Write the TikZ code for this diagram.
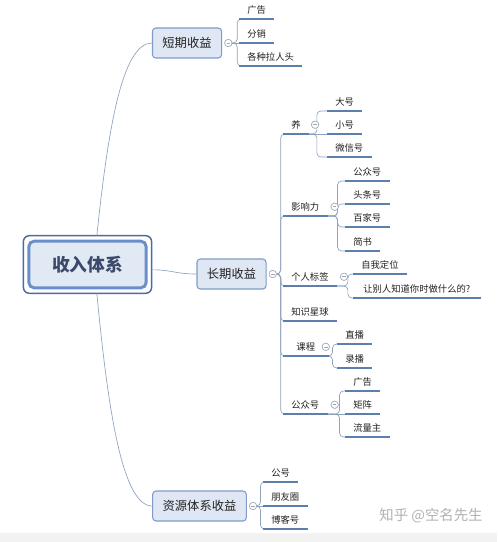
\documentclass[tikz,border=0pt]{standalone}
\usepackage{fontspec}
\setmainfont{Noto Sans CJK SC}
\usetikzlibrary{positioning}

\definecolor{boxfill}{HTML}{DEE7F3}
\definecolor{boxdraw}{HTML}{7F9CC6}
\definecolor{rootfill}{HTML}{E1E9F4}
\definecolor{rootin}{HTML}{6A8FC8}
\definecolor{rootout}{HTML}{4D6BA3}
\definecolor{rootText}{HTML}{3B4A6B}
\definecolor{ulcol}{HTML}{5B7FAF}
\definecolor{conncol}{HTML}{8FA3BD}
\definecolor{foldcol}{HTML}{9AA8B8}
\definecolor{txt}{HTML}{222222}
\definecolor{bandgray}{HTML}{F2F2F2}

\tikzset{
  root/.style={draw=rootin,fill=rootfill,line width=2.2pt,rounded corners=4pt,
    minimum width=88pt,minimum height=35pt,text=rootText,
    font=\fontsize{13.3}{15}\selectfont\bfseries},
  rootframe/.style={draw=rootout,line width=1.1pt,rounded corners=4.5pt},
  topic/.style={draw=boxdraw,fill=boxfill,rounded corners=2.5pt,line width=0.8pt,
    minimum height=22.5pt,inner xsep=7.5pt,text=txt,font=\fontsize{9.2}{11}\selectfont},
  leaf/.style={anchor=south west,inner xsep=6pt,inner ysep=3.5pt,text=txt,
    font=\fontsize{7}{8.4}\selectfont},
  uline/.style={draw=ulcol,line width=1.3pt},
  conn/.style={draw=conncol,line width=0.5pt},
  fan/.style={conn,rounded corners=3pt},
  fold/.style={circle,draw=foldcol,fill=white,inner sep=0pt,minimum size=5.5pt,line width=0.4pt,
    path picture={\draw[foldcol,line width=0.4pt]
      ([xshift=-1.3pt]path picture bounding box.center) -- ([xshift=1.3pt]path picture bounding box.center);}},
  wmark/.style={text=gray!60,font=\fontsize{10.8}{12}\selectfont},
}

\begin{document}
\begin{tikzpicture}[x=0.75pt,y=-0.75pt]
  \fill[white] (0,0) rectangle (497,542);
  \useasboundingbox (0,0) rectangle (497,542);
  \fill[bandgray] (0,533) rectangle (497,542);

  \node[root] (root) at (87.5,264.5) {收入体系};
  \draw[rootframe] ([shift={(-4,-4)}]root.north west) rectangle ([shift={(4,4)}]root.south east);

  \node[topic] (short) at (187,43) {短期收益};
  \node[topic] (long) at (231.5,274) {长期收益};
  \node[topic] (res) at (199.5,506) {资源体系收益};

  \node[leaf] (sad) at (239,19) {广告};
  \node[leaf] (sfx) at (239,43) {分销};
  \node[leaf] (slrt) at (239,66) {各种拉人头};

  \node[leaf] (yang) at (283,134) {养};
  \node[leaf] (infl) at (283,216) {影响力};
  \node[leaf] (tag) at (283,286) {个人标签};
  \node[leaf] (zsxq) at (283,321) {知识星球};
  \node[leaf,minimum width=33.75pt] (course) at (283,356) {课程};
  \node[leaf] (gzh) at (283,414) {公众号};

  \node[leaf] (dh) at (327,111) {大号};
  \node[leaf] (xh) at (327,134) {小号};
  \node[leaf] (wxh) at (327,157) {微信号};

  \node[leaf] (ygzh) at (345,181) {公众号};
  \node[leaf] (tth) at (345,204) {头条号};
  \node[leaf] (bjh) at (345,227) {百家号};
  \node[leaf] (js) at (345,251) {简书};

  \node[leaf] (zwdw) at (353,274) {自我定位};
  \node[leaf,inner xsep=7.5pt] (rbr) at (353,298) {让别人知道你时做什么的?};

  \node[leaf] (zb) at (337,344) {直播};
  \node[leaf] (lb) at (337,368) {录播};

  \node[leaf] (gad) at (345,391) {广告};
  \node[leaf] (jz) at (345,414) {矩阵};
  \node[leaf] (llz) at (345,437) {流量主};

  \node[leaf] (gh) at (263,482) {公号};
  \node[leaf] (pyq) at (263,506) {朋友圈};
  \node[leaf] (bkh) at (263,529) {博客号};

  \node[fold,right=1.7pt of short] (fshort) {};
  \node[fold,right=1.7pt of long] (flong) {};
  \node[fold,right=1.7pt of res] (fres) {};
  \node[fold,right=1.7pt of yang] (fyang) {};
  \node[fold,right=2.4pt of infl] (finfl) {};
  \node[fold,right=2.4pt of tag] (ftag) {};
  \node[fold,right=-5pt of course] (fcourse) {};
  \node[fold,right=2.4pt of gzh] (fgzh) {};

  \draw[conn] ([xshift=7pt,yshift=3pt]root.north) .. controls +(11,-105) and +(-30,0) .. (short.west);
  \draw[conn] ([xshift=7pt,yshift=-3pt]root.south) .. controls +(11,115) and +(-30,0) .. (res.west);
  \draw[conn] ([xshift=3pt,yshift=-4pt]root.east) .. controls +(22,0) and +(-22,0) .. (long.west);

  \foreach \c in {sad,slrt} \draw[fan] (fshort.east) -- ++(5,0) |- (\c.south west);
  \draw[conn] (fshort.east) -- (sfx.south west);
  \foreach \c in {yang,infl,tag,zsxq,course,gzh} \draw[fan] (flong.east) -- ++(4,0) |- (\c.south west);
  \foreach \c in {gh,bkh} \draw[fan] (fres.east) -- ++(3.5,0) |- (\c.south west);
  \draw[conn] (fres.east) -- (pyq.south west);

  \foreach \c in {dh,wxh} \draw[fan] (yang.south east) -- ++(8,0) |- (\c.south west);
  \draw[conn] (yang.south east) -- (xh.south west);
  \foreach \c in {ygzh,tth,bjh,js} \draw[fan] (infl.south east) -- ++(10,0) |- (\c.south west);
  \foreach \c in {zwdw,rbr} \draw[fan] (tag.south east) -- ++(11,0) |- (\c.south west);
  \foreach \c in {zb,lb} \draw[fan] (course.south east) -- ++(4,0) |- (\c.south west);
  \foreach \c in {gad,llz} \draw[fan] (gzh.south east) -- ++(12,0) |- (\c.south west);
  \draw[conn] (gzh.south east) -- (jz.south west);

  \foreach \n in {sad,sfx,slrt,yang,infl,tag,zsxq,course,gzh,dh,xh,wxh,ygzh,tth,bjh,js,
      zwdw,rbr,zb,lb,gad,jz,llz,gh,pyq,bkh}
    \draw[uline] (\n.south west) -- (\n.south east);

  \foreach \f in {fshort,flong,fres,fyang,finfl,ftag,fcourse,fgzh}
    \node[fold] at (\f) {};

  \node[wmark] (zhihu) at (431,516) {知乎 @空名先生};
\end{tikzpicture}
\end{document}
